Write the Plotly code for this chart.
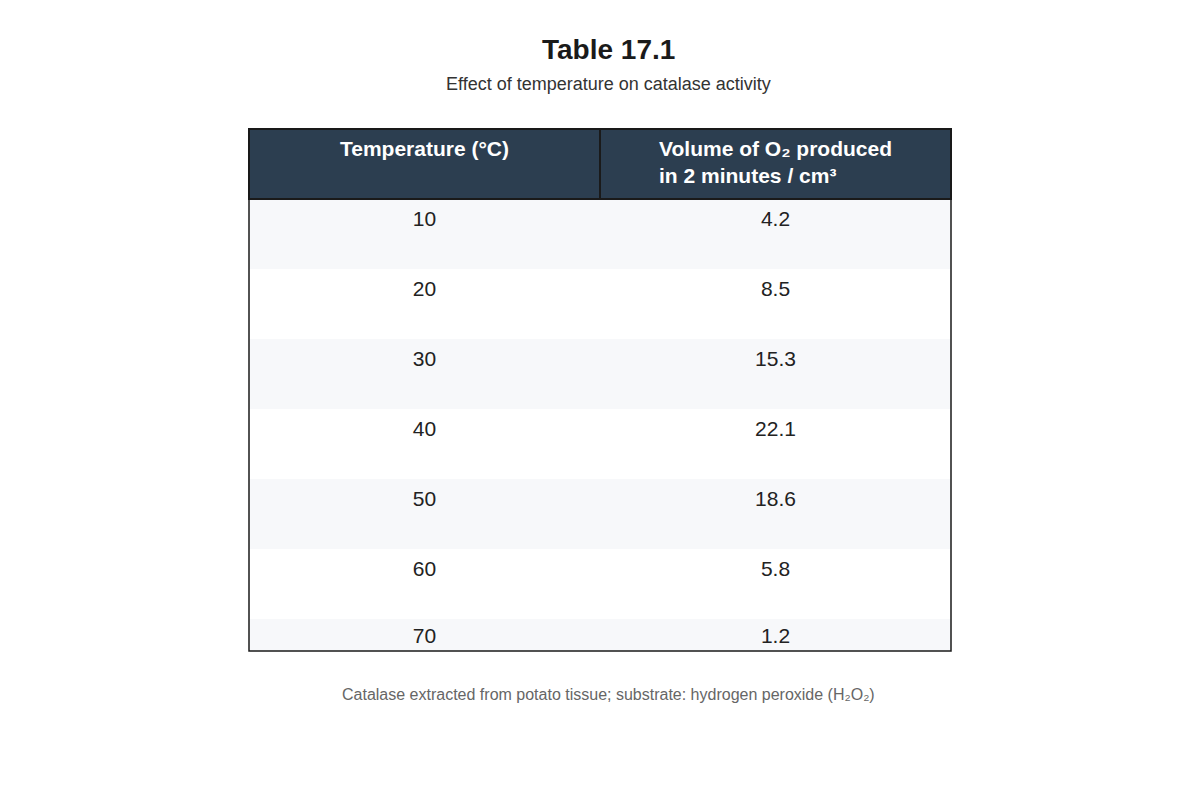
import plotly.graph_objects as go

headers = ["Temperature (°C)", "Volume of O₂ produced<br>in 2 minutes / cm³"]
temperature = ["10", "20", "30", "40", "50", "60", "70"]
volume = ["4.2", "8.5", "15.3", "22.1", "18.6", "5.8", "1.2"]

fills = ["#f7f8fa" if i % 2 == 0 else "#ffffff" for i in range(len(temperature))]

def pad(vals):
    # push text toward vertical centre of the 70px rows (last row is clipped)
    return ["<br>" + v if i < len(vals) - 1 else v for i, v in enumerate(vals)]

X0, X1 = 241 / 1200, 943 / 1200
Y0, Y1 = 1 - 643 / 800, 1 - 121 / 800

fig = go.Figure(go.Table(
    domain=dict(x=[X0, X1], y=[Y0, Y1]),
    columnwidth=[1, 1],
    header=dict(values=["<br><b>" + headers[0] + "</b>", "<b>" + headers[1] + "</b>"],
                fill_color="#2c3e50", line=dict(color="#1a1a1a", width=1.5),
                font=dict(color="white", size=21, family="Liberation Sans, Arial"),
                align="center", height=70),
    cells=dict(values=[pad(temperature), pad(volume)],
               fill_color=[fills, fills], line=dict(color="rgba(0,0,0,0)", width=0),
               font=dict(color="#222222", size=21, family="Liberation Sans, Arial"),
               align="center", height=70),
))
fig.add_shape(type="rect", xref="paper", yref="paper", x0=X0, x1=X1,
              y0=Y0, y1=Y1, line=dict(color="#1a1a1a", width=1.5))
fig.add_annotation(text="<b>Table 17.1</b>", x=0.5, y=1 - 42/800, xref="paper", yref="paper",
                   yanchor="middle", showarrow=False,
                   font=dict(size=28, color="#1a1a1a", family="Liberation Sans, Arial"))
fig.add_annotation(text="Effect of temperature on catalase activity", x=0.5, y=1 - 76/800,
                   xref="paper", yref="paper", yanchor="middle", showarrow=False,
                   font=dict(size=18, color="#333333", family="Liberation Sans, Arial"))
fig.add_annotation(text="Catalase extracted from potato tissue; substrate: hydrogen peroxide (H₂O₂)",
                   x=0.5, y=1 - 686/800, xref="paper", yref="paper", yanchor="middle", showarrow=False,
                   font=dict(size=16, color="#666666", family="Liberation Sans, Arial"))
fig.update_layout(width=1200, height=800, margin=dict(l=0, r=0, t=0, b=0),
                  paper_bgcolor="white", plot_bgcolor="white")
fig.write_html("out.html")
